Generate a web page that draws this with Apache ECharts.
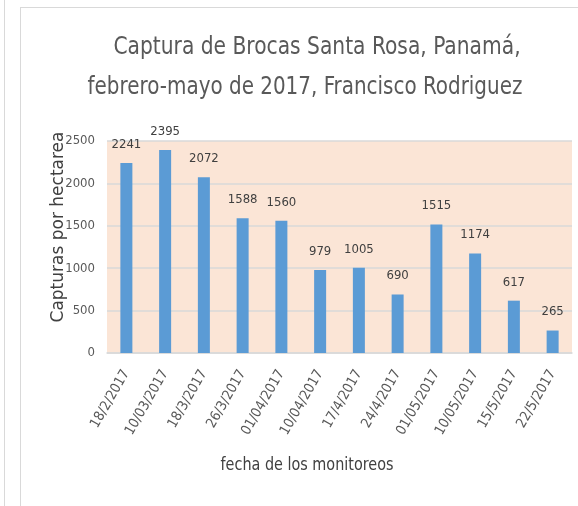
<!DOCTYPE html>
<html>
<head>
<meta charset="utf-8">
<script src="https://cdn.jsdelivr.net/npm/echarts@6/dist/echarts.min.js"></script>
<style>
  html, body { margin: 0; padding: 0; background: #fff; }
  #wrap { position: relative; width: 578px; height: 506px; overflow: hidden; }
  #leftLine { position: absolute; left: 4px; top: 0; width: 1px; height: 506px; background: #d9d9d9; }
  #frame { position: absolute; left: 20px; top: 7px; width: 600px; height: 520px; border: 1px solid #d9d9d9; }
  #chart { position: absolute; left: 0; top: 0; width: 578px; height: 506px; }
</style>
</head>
<body>
<div id="wrap">
  <div id="leftLine"></div>
  <div id="frame"></div>
  <div id="chart"></div>
</div>
<script>
const fechas = ["18/2/2017", "10/03/2017", "18/3/2017", "26/3/2017", "01/04/2017", "10/04/2017",
  "17/4/2017", "24/4/2017", "01/05/2017", "10/05/2017", "15/5/2017", "22/5/2017"];
const capturas = [2241, 2395, 2072, 1588, 1560, 979, 1005, 690, 1515, 1174, 617, 265];
const titulo1 = "Captura de Brocas Santa Rosa, Panamá,";
const titulo2 = "febrero-mayo de 2017, Francisco Rodriguez";

const narrow = "'Liberation Sans Narrow', 'DejaVu Sans Condensed', sans-serif";

const titleStyle = (text) => ({
  text: text,
  font: "22.5px " + narrow,
  lineHeight: 36,
  fill: "#595959",
  align: "center",
  verticalAlign: "top"
});

const chart = echarts.init(document.getElementById("chart"));
chart.setOption({
  animation: false,
  grid: { left: 107, right: 6, top: 141, bottom: 153, show: true, backgroundColor: "#fbe5d6", borderWidth: 0 },
  graphic: [
    // title, two lines, a bit taller than wide like the original
    { type: "text", x: 317, y: 28, scaleY: 1.1, style: titleStyle(titulo1) },
    { type: "text", x: 305, y: 67.6, scaleY: 1.1, scaleX: 0.985, style: titleStyle(titulo2) },
    {
      type: "text",
      x: 59,
      y: 227,
      rotation: Math.PI / 2,
      style: {
        text: "Capturas por hectarea",
        font: "17px 'DejaVu Sans', sans-serif",
        fill: "#404040",
        align: "center",
        verticalAlign: "middle"
      }
    }, {
      type: "text",
      x: 307,
      y: 465,
      scaleY: 1.1,
      style: {
        text: "fecha de los monitoreos",
        font: "16px " + narrow,
        fill: "#404040",
        align: "center",
        verticalAlign: "middle"
      }
    }
  ],
  xAxis: {
    type: "category",
    data: fechas,
    axisLine: { lineStyle: { color: "#d9d9d9", width: 1.5 } },
    axisTick: { show: false },
    axisLabel: { rotate: 60, fontFamily: narrow, fontSize: 14, color: "#595959", margin: 18, interval: 0 }
  },
  yAxis: {
    type: "value",
    min: 0,
    max: 2500,
    interval: 500,
    axisLine: { show: false },
    axisTick: { show: false },
    splitLine: { lineStyle: { color: "#d9d9d9", width: 1.5 } },
    axisLabel: { formatter: (v) => String(v), fontFamily: narrow, fontSize: 13, color: "#595959", margin: 12 }
  },
  series: [{
    type: "bar",
    data: capturas,
    barWidth: 12,
    itemStyle: { color: "#5b9bd5" },
    label: { show: true, position: "top", distance: 12, fontFamily: narrow, fontSize: 13, color: "#404040" }
  }]
});
</script>
</body>
</html>
